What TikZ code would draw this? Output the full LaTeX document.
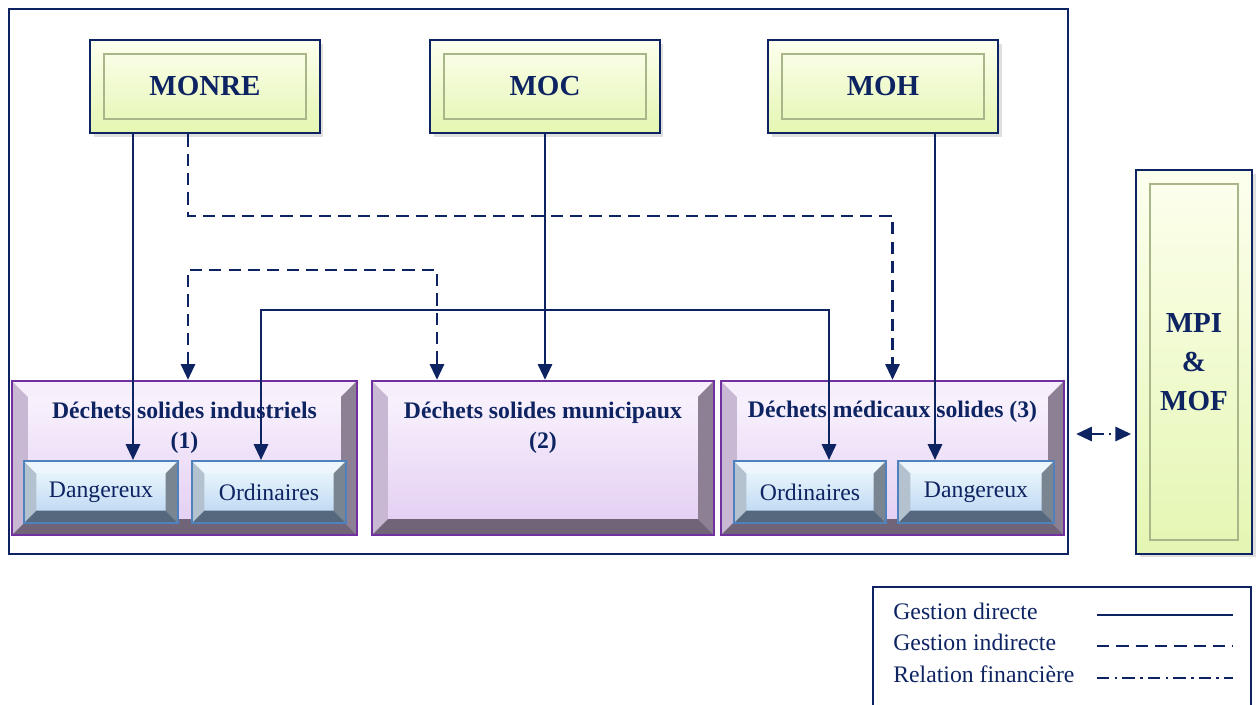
\documentclass[tikz,border=0pt]{standalone}
\usepackage{fontspec}
\setmainfont{Liberation Serif}
\usetikzlibrary{arrows.meta,calc,positioning,shadows}

\definecolor{navy}{RGB}{14,36,98}
\definecolor{lilac}{RGB}{112,48,160}
\definecolor{lavtop}{RGB}{251,246,254}
\definecolor{lavbot}{RGB}{226,204,242}
\definecolor{lavL}{RGB}{200,184,212}
\definecolor{lavT}{RGB}{246,238,250}
\definecolor{lavR}{RGB}{141,128,148}
\definecolor{lavB}{RGB}{111,100,120}
\definecolor{skyedge}{RGB}{79,129,189}
\definecolor{skytop}{RGB}{242,251,255}
\definecolor{skybot}{RGB}{182,211,240}
\definecolor{skyL}{RGB}{180,194,207}
\definecolor{skyT}{RGB}{236,246,252}
\definecolor{skyR}{RGB}{122,133,146}
\definecolor{skyB}{RGB}{86,104,126}
\definecolor{limetop}{RGB}{253,255,238}
\definecolor{limebot}{RGB}{228,246,178}
\definecolor{limeline}{RGB}{168,182,138}

% four bevel faces inside a node: depth, left, top, right, bottom
\newcommand{\bevelfaces}[5]{%
  \coordinate (bsw) at (path picture bounding box.south west);
  \coordinate (bnw) at (path picture bounding box.north west);
  \coordinate (bne) at (path picture bounding box.north east);
  \coordinate (bse) at (path picture bounding box.south east);
  \fill[#2] (bsw) -- (bnw) -- ($(bnw)+(#1,-#1)$) -- ($(bsw)+(#1,#1)$) -- cycle;
  \fill[#3] (bnw) -- (bne) -- ($(bne)+(-#1,-#1)$) -- ($(bnw)+(#1,-#1)$) -- cycle;
  \fill[#4] (bne) -- (bse) -- ($(bse)+(-#1,#1)$) -- ($(bne)+(-#1,-#1)$) -- cycle;
  \fill[#5] (bse) -- (bsw) -- ($(bsw)+(#1,#1)$) -- ($(bse)+(-#1,#1)$) -- cycle;
}

\tikzset{
  ministry/.style={draw=navy, line width=1.5pt, top color=limetop, bottom color=limebot,
    drop shadow={opacity=0.25, shadow xshift=2pt, shadow yshift=-2pt},
    path picture={\draw[limeline, line width=0.8pt]
      ([shift={(8pt,-8pt)}]path picture bounding box.north west) rectangle
      ([shift={(-8pt,8pt)}]path picture bounding box.south east);},
    text=navy, align=center, font=\bfseries\fontsize{16.5}{22}\selectfont},
  wastebox/.style={draw=lilac, line width=1.3pt, top color=lavtop, bottom color=lavbot,
    minimum height=3.08cm, path picture={\bevelfaces{9pt}{lavL}{lavT}{lavR}{lavB}}},
  wastetitle/.style={text=navy, align=center, inner sep=0pt,
    font=\bfseries\fontsize{13.5}{17.5}\selectfont},
  kindbox/.style={draw=skyedge, line width=1.1pt, top color=skytop, bottom color=skybot,
    minimum height=1.24cm, minimum width=3.08cm,
    path picture={\bevelfaces{7pt}{skyL}{skyT}{skyR}{skyB}},
    text=navy, font=\fontsize{13.5}{16}\selectfont},
  direct/.style={draw=navy, line width=1.6pt},
  indirect/.style={direct, dash pattern=on 7pt off 4pt},
  finance/.style={direct, dash pattern=on 7pt off 3pt on 1.5pt off 3pt},
  legtext/.style={text=navy, anchor=west, inner sep=0pt, font=\fontsize{13.5}{16}\selectfont},
}

\begin{document}
\begin{tikzpicture}[x=0.02cm, y=-0.02cm, >={Triangle[length=9pt,width=8pt]}]
  \useasboundingbox (0,0) rectangle (1258,704);

  % outer frame
  \node[draw=navy, line width=1.1pt, minimum width=21.18cm, minimum height=10.9cm] (frame) at (538.5,281.5) {};

  % ministries
  \node[ministry, minimum width=4.6cm, minimum height=1.86cm] (monre) at (205,86.5) {MONRE};
  \node[ministry, minimum width=4.6cm, minimum height=1.86cm] (moc) at (545,86.5) {MOC};
  \node[ministry, minimum width=4.6cm, minimum height=1.86cm] (moh) at (883,86.5) {MOH};
  \node[ministry, minimum width=2.32cm, minimum height=7.68cm] (mpi) at (1194,362) {MPI\\\&\\MOF};

  % waste groups
  \node[wastebox, minimum width=6.9cm] (ind) at (184.5,458) {};
  \node[wastebox, minimum width=6.84cm] (mun) at (543,458) {};
  \node[wastebox, minimum width=6.86cm] (med) at (892.5,458) {};
  \node[wastetitle, anchor=base] (indt) at ($(ind.north)+(0,69)$) {Déchets solides industriels\\(1)};
  \node[wastetitle, anchor=base] (munt) at ($(mun.north)+(0,69)$) {Déchets solides municipaux\\(2)};
  \node[wastetitle, anchor=base] (medt) at ($(med.north)+(0,38)$) {Déchets médicaux solides (3)};

  \node[kindbox] (dang1) at (101,492) {Dangereux};
  \node[kindbox] (ord1) at (269,492) {Ordinaires};
  \node[kindbox, minimum width=3.04cm] (ord2) at (810,492) {Ordinaires};
  \node[kindbox, minimum width=3.12cm] (dang2) at (976,492) {Dangereux};

  % columns and levels of the links
  \coordinate (xa) at (133,0);
  \coordinate (xb) at (188,0);
  \coordinate (xc) at (437,0);
  \coordinate (xd) at (261,0);
  \coordinate (xe) at (829,0);
  \coordinate (xf) at (935,0);
  \coordinate (ya) at (0,216);
  \coordinate (yb) at (0,270);
  \coordinate (yc) at (0,310);

  \draw[direct, ->] (monre.south -| xa) -- (xa |- dang1.north);
  \draw[indirect, ->] (monre.south -| xb) -- (xb |- ya) -- (med.north |- ya) -- (med.north);
  \draw[indirect, <->] (xb |- ind.north) -- (xb |- yb) -- (xc |- yb) -- (xc |- mun.north);
  \draw[direct, ->] (moc.south) -- (moc.south |- mun.north);
  \draw[direct, <->] (xd |- ord1.north) -- (xd |- yc) -- (xe |- yc) -- (xe |- ord2.north);
  \draw[direct, ->] (moh.south -| xf) -- (xf |- dang2.north);
  \draw[finance, <->] ([xshift=0.22cm, yshift=0.48cm]med.east) coordinate (fin) -- ([xshift=-2pt]fin -| mpi.west);

  % legend
  \node[draw=navy, line width=1.1pt, anchor=north west, minimum width=7.56cm, minimum height=2.7cm] (legend) at (872,586) {};
  \foreach \y/\txt/\sty [count=\i] in {611/Gestion directe/direct, 642/Gestion indirecte/indirect, 674/Relation financière/finance} {
    \node[legtext] (leg\i) at (893,\y) {\txt};
    \coordinate (ls\i) at (1097,\y+4);
    \coordinate (le\i) at (1233,\y+4);
    \draw[\sty] (ls\i) -- (le\i);
  }
\end{tikzpicture}
\end{document}
